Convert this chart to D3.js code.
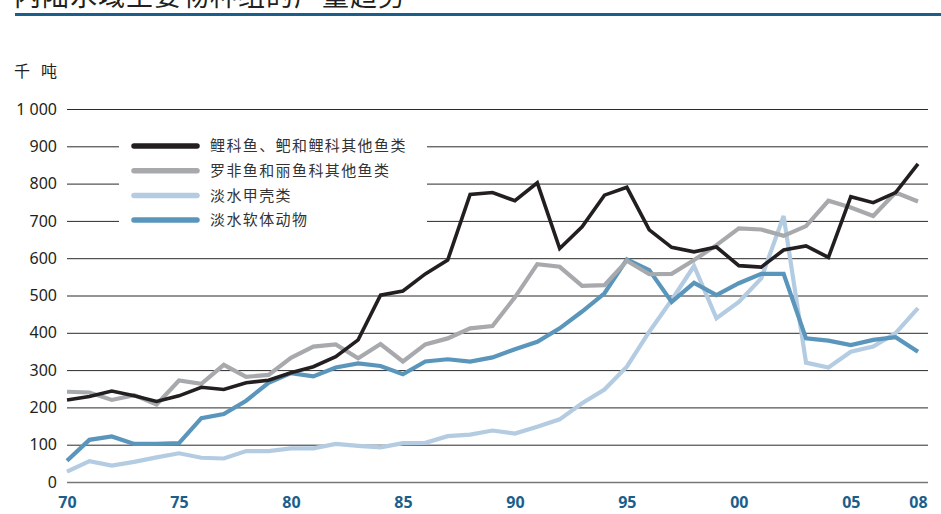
<!DOCTYPE html>
<html>
<head>
<meta charset="utf-8">
<script src="https://cdn.jsdelivr.net/npm/d3@7"></script>
<style>
  body { margin: 0; background: #fff; }
  #chart { width: 941px; height: 514px; }
  text { font-family: "Noto Sans", "Noto Sans CJK SC", sans-serif; }
</style>
</head>
<body>
<div id="chart"></div>
<script>
var years = d3.range(1970, 2009);

// 鲤科鱼、鲃和鲤科其他鱼类
var carps = [220, 229, 244, 231, 216, 231, 254, 248, 266, 273, 293, 309, 336, 381, 501, 512, 558, 595, 771, 776,
    754, 802, 626, 684, 769, 790, 676, 629, 617, 630, 580, 576, 622, 633, 602, 765, 749, 776, 853];
// 罗非鱼和丽鱼科其他鱼类
var tilapias = [242, 240, 220, 233, 208, 272, 263, 314, 282, 287, 333, 363, 369, 332, 370, 323, 369, 385, 412, 418,
    495, 584, 577, 526, 528, 593, 557, 558, 595, 635, 680, 677, 660, 686, 754, 736, 713, 776, 752];
// 淡水甲壳类
var crustaceans = [28, 56, 44, 54, 66, 77, 65, 63, 83, 83, 90, 90, 102, 97, 93, 104, 105, 123, 127, 138,
    130, 148, 168, 211, 248, 309, 403, 488, 579, 439, 483, 546, 713, 320, 307, 349, 363, 399, 466];
// 淡水软体动物
var molluscs = [57, 113, 122, 102, 102, 104, 171, 182, 218, 266, 292, 283, 307, 318, 311, 289, 323, 329, 323, 334,
    356, 376, 412, 457, 506, 597, 568, 483, 534, 501, 533, 558, 558, 385, 379, 367, 381, 388, 349];

var seriesNames = ["鲤科鱼、鲃和鲤科其他鱼类", "罗非鱼和丽鱼科其他鱼类", "淡水甲壳类", "淡水软体动物"];
var seriesColors = ["#231f20", "#a7a9ac", "#b4cce2", "#5a96bb"];
var yTicks = [0, 100, 200, 300, 400, 500, 600, 700, 800, 900, 1000];
var xTicks = [1970, 1975, 1980, 1985, 1990, 1995, 2000, 2005, 2008];

var chartDiv = document.getElementById("chart");
var width = 941, height = 514;

var svg = d3.select(chartDiv).append("svg")
    .attr("width", width)
    .attr("height", height);

// title (the picture only shows its lower part)
svg.append("text")
    .attr("x", 14)
    .attr("y", 6)
    .style("font-size", "27px")
    .style("fill", "#231f20")
    .style("letter-spacing", "1px")
    .text("内陆水域主要物种组的产量趋势");

svg.append("rect")
    .attr("x", 15).attr("y", 13)
    .attr("width", width - 15).attr("height", 3)
    .style("fill", "#1b5e8b");

var x = d3.scaleLinear().domain([1970, 2008]).range([67, 918]);
var y = d3.scaleLinear().domain([0, 1000]).range([482, 109]);

// grid lines with the tick labels
var yAxis = d3.axisLeft(y)
    .tickValues(yTicks)
    .tickSize(-(928 - 67))
    .tickFormat(function(d) { return d3.format(",")(d).replace(",", " "); });

var gy = svg.append("g")
    .attr("transform", "translate(67,0)")
    .call(yAxis);
gy.select(".domain").remove();
gy.selectAll(".tick line")
    .style("stroke", function(d) { return d == 0 ? "#777" : "#2b2b2b"; })
    .style("stroke-width", function(d) { return d == 0 ? 1.6 : 1; });
gy.selectAll(".tick text")
    .attr("x", -10)
    .style("font-size", "16px")
    .style("fill", "#231f20");

var xAxis = d3.axisBottom(x)
    .tickValues(xTicks)
    .tickSize(0)
    .tickFormat(function(d) { return d3.format("02")(d % 100); });

var gx = svg.append("g")
    .attr("transform", "translate(0,497)")
    .call(xAxis);
gx.select(".domain").remove();
gx.selectAll(".tick text")
    .attr("dy", "0.71em")
    .attr("y", 0)
    .style("font-size", "16px")
    .style("font-weight", "bold")
    .style("fill", "#1b5e8b");

svg.append("text")
    .attr("x", 14)
    .attr("y", 77)
    .style("font-size", "16px")
    .style("fill", "#231f20")
    .style("letter-spacing", "11px")
    .text("千吨");

// legend box hides the grid behind it
svg.append("rect")
    .attr("x", 119).attr("y", 130)
    .attr("width", 427 - 119).attr("height", 104)
    .style("fill", "#fff");

var allSeries = [carps, tilapias, crustaceans, molluscs];

var line = d3.line()
    .x(function(d, i) { return x(years[i]); })
    .y(function(d) { return y(d); });

var drawOrder = [2, 3, 1, 0];
drawOrder.forEach(function(k) {
    svg.append("path")
        .datum(allSeries[k])
        .attr("d", line)
        .style("fill", "none")
        .style("stroke", seriesColors[k])
        .style("stroke-width", k == 0 ? 3.6 : 4.2)
        .style("stroke-linejoin", "miter");
});

var legend = svg.append("g");
seriesNames.forEach(function(name, i) {
    var ly = 146 + i * 24.7;
    legend.append("line")
        .attr("x1", 134).attr("x2", 197)
        .attr("y1", ly).attr("y2", ly)
        .style("stroke", seriesColors[i])
        .style("stroke-width", 5.5)
        .style("stroke-linecap", "round");
    legend.append("text")
        .attr("x", 210)
        .attr("y", ly)
        .attr("dy", "0.35em")
        .style("font-size", "15px")
        .style("fill", "#333")
        .style("letter-spacing", "1.4px")
        .text(name);
});
</script>
</body>
</html>
